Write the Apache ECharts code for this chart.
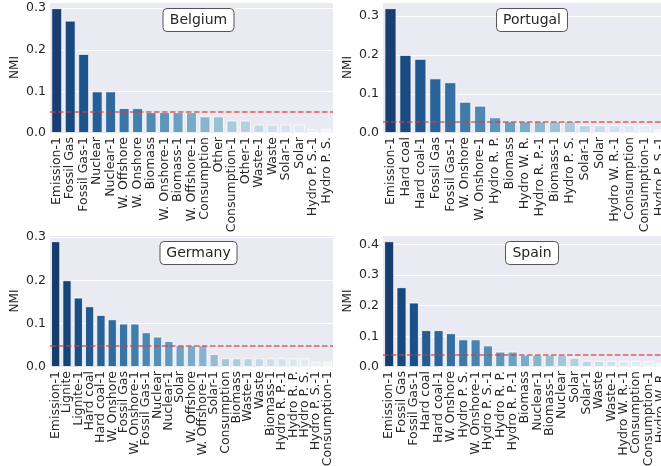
<!DOCTYPE html>
<html>
<head>
<meta charset="utf-8">
<script src="https://cdn.jsdelivr.net/npm/echarts@6/dist/echarts.min.js"></script>
<style>
  html, body { margin: 0; padding: 0; background: #fff; }
  #main { width: 661px; height: 466px; }
</style>
</head>
<body>
<div id="main"></div>
<script>
// 数据
var belgiumCats = ['Emission-1', 'Fossil Gas', 'Fossil Gas-1', 'Nuclear', 'Nuclear-1', 'W. Offshore', 'W. Onshore',
    'Biomass', 'W. Onshore-1', 'Biomass-1', 'W. Offshore-1', 'Consumption', 'Other', 'Consumption-1', 'Other-1',
    'Waste-1', 'Waste', 'Solar-1', 'Solar', 'Hydro P. S.-1', 'Hydro P. S.'];
var belgiumVals = [0.30, 0.27, 0.19, 0.10, 0.10, 0.06, 0.06, 0.05, 0.05, 0.05, 0.05, 0.04, 0.04, 0.03, 0.03,
    0.02, 0.02, 0.02, 0.02, 0.009, 0.009];
var belgiumThr = 0.051;

var portugalCats = ['Emission-1', 'Hard coal', 'Hard coal-1', 'Fossil Gas', 'Fossil Gas-1', 'W. Onshore', 'W. Onshore-1',
    'Hydro R. P.', 'Biomass', 'Hydro W. R.', 'Hydro R. P.-1', 'Biomass-1', 'Hydro P. S.', 'Solar-1', 'Solar',
    'Hydro W. R.-1', 'Consumption', 'Consumption-1', 'Hydro P. S.-1'];
var portugalVals = [0.32, 0.20, 0.19, 0.14, 0.13, 0.08, 0.07, 0.04, 0.03, 0.03, 0.03, 0.03, 0.03, 0.02, 0.02,
    0.02, 0.02, 0.02, 0.009];
var portugalThr = 0.031;

var germanyCats = ['Emission-1', 'Lignite', 'Lignite-1', 'Hard coal', 'Hard coal-1', 'W. Onshore', 'Fossil Gas',
    'W. Onshore-1', 'Fossil Gas-1', 'Nuclear', 'Nuclear-1', 'Solar', 'W. Offshore', 'W. Offshore-1', 'Solar-1',
    'Consumption', 'Biomass', 'Waste-1', 'Waste', 'Biomass-1', 'Hydro R. P.-1', 'Hydro R. P.', 'Hydro P. S.',
    'Hydro P. S.-1', 'Consumption-1'];
var germanyVals = [0.29, 0.20, 0.16, 0.14, 0.12, 0.11, 0.10, 0.10, 0.08, 0.07, 0.06, 0.05, 0.05, 0.05, 0.03,
    0.02, 0.02, 0.02, 0.02, 0.02, 0.02, 0.02, 0.02, 0.012, 0.012];
var germanyThr = 0.051;

var spainCats = ['Emission-1', 'Fossil Gas', 'Fossil Gas-1', 'Hard coal', 'Hard coal-1', 'W. Onshore', 'Hydro P. S.',
    'W. Onshore-1', 'Hydro P. S.-1', 'Hydro R. P.', 'Hydro R. P.-1', 'Biomass', 'Nuclear-1', 'Biomass-1', 'Nuclear',
    'Solar', 'Solar-1', 'Waste', 'Waste-1', 'Hydro W. R.-1', 'Consumption', 'Consumption-1', 'Hydro W. R.'];
var spainVals = [0.41, 0.26, 0.21, 0.12, 0.12, 0.11, 0.09, 0.09, 0.07, 0.05, 0.05, 0.04, 0.04, 0.04, 0.04,
    0.03, 0.02, 0.02, 0.02, 0.02, 0.02, 0.02, 0.012];
var spainThr = 0.045;

var yTicks = [0, 0.1, 0.2, 0.3, 0.4];

// Blues_r 调色板 (seaborn 风格, 饱和度 0.75)
var bluesStops = ['#f7fbff', '#deebf7', '#c6dbef', '#9ecae1', '#6baed6', '#4292c6', '#2171b5', '#08519c', '#08306b'];

function hexToRgb(h) {
    return [parseInt(h.substr(1, 2), 16), parseInt(h.substr(3, 2), 16), parseInt(h.substr(5, 2), 16)];
}

function blues(t) {
    var pos = t * (bluesStops.length - 1);
    var i = Math.min(Math.floor(pos), bluesStops.length - 2);
    var f = pos - i;
    var a = hexToRgb(bluesStops[i]), b = hexToRgb(bluesStops[i + 1]);
    return [a[0] + (b[0] - a[0]) * f, a[1] + (b[1] - a[1]) * f, a[2] + (b[2] - a[2]) * f];
}

function desat(rgb, k) {
    var r = rgb[0] / 255, g = rgb[1] / 255, b = rgb[2] / 255;
    var mx = Math.max(r, g, b), mn = Math.min(r, g, b);
    var l = (mx + mn) / 2, h = 0, s = 0;
    if (mx !== mn) {
        var d = mx - mn;
        s = l > 0.5 ? d / (2 - mx - mn) : d / (mx + mn);
        if (mx === r) h = (g - b) / d + (g < b ? 6 : 0);
        else if (mx === g) h = (b - r) / d + 2;
        else h = (r - g) / d + 4;
        h /= 6;
    }
    s *= k;
    function hue(p, q, t) {
        if (t < 0) t += 1;
        if (t > 1) t -= 1;
        if (t < 1 / 6) return p + (q - p) * 6 * t;
        if (t < 1 / 2) return q;
        if (t < 2 / 3) return p + (q - p) * (2 / 3 - t) * 6;
        return p;
    }
    var q = l < 0.5 ? l * (1 + s) : l + s - l * s;
    var p = 2 * l - q;
    var out = s === 0 ? [l, l, l] : [hue(p, q, h + 1 / 3), hue(p, q, h), hue(p, q, h - 1 / 3)];
    return 'rgb(' + Math.round(out[0] * 255) + ',' + Math.round(out[1] * 255) + ',' + Math.round(out[2] * 255) + ')';
}

function palette(n) {
    var out = [];
    for (var i = 0; i < n; i++) {
        out.push(desat(blues(1 - (i + 1) / (n + 1)), 0.75));
    }
    return out;
}

var FONT = 'DejaVu Sans';
var TXT = '#262626';

// 四个面板
var panels = [
    { name: 'Belgium', cats: belgiumCats, vals: belgiumVals, thr: belgiumThr, left: 50, top: 2, width: 283, height: 131 },
    { name: 'Portugal', cats: portugalCats, vals: portugalVals, thr: portugalThr, left: 383, top: 2, width: 284, height: 131 },
    { name: 'Germany', cats: germanyCats, vals: germanyVals, thr: germanyThr, left: 50, top: 235, width: 283, height: 132 },
    { name: 'Spain', cats: spainCats, vals: spainVals, thr: spainThr, left: 383, top: 235, width: 284, height: 132 }
];

var option = { backgroundColor: '#fff', animation: false, title: [], grid: [], xAxis: [], yAxis: [], series: [] };

panels.forEach(function (p, idx) {
    var maxV = Math.max.apply(null, p.vals) * 1.05;
    var cols = palette(p.vals.length);

    option.grid.push({ left: p.left, top: p.top, width: p.width, height: p.height,
        show: true, backgroundColor: '#eaeaf2', borderWidth: 0,
        containLabel: false, outerBoundsMode: 'none' });

    option.title.push({
        text: p.name,
        left: p.left + p.width / 2,
        top: p.top + 6,
        textAlign: 'center',
        backgroundColor: '#fff',
        borderColor: '#555',
        borderWidth: 1,
        borderRadius: 4,
        padding: [5, 7, 5, 7],
        textStyle: { fontFamily: FONT, fontSize: 14, fontWeight: 'normal', color: TXT }
    });

    option.xAxis.push({
        type: 'category', gridIndex: idx, data: p.cats,
        axisLine: { show: false }, axisTick: { show: false },
        axisLabel: { interval: 0, rotate: 90, margin: 4, fontFamily: FONT, fontSize: 12.5, color: TXT }
    });

    option.yAxis.push({
        type: 'value', gridIndex: idx, min: 0, max: maxV, interval: 0.1,
        name: 'NMI', nameLocation: 'middle', nameGap: 29, nameRotate: 90,
        nameTextStyle: { fontFamily: FONT, fontSize: 12, color: TXT },
        axisLine: { show: false }, axisTick: { show: false },
        splitLine: { lineStyle: { color: '#fff', width: 1 } },
        axisLabel: {
            margin: 4, fontFamily: FONT, fontSize: 12.5, color: TXT,
            formatter: function (v) {
                return yTicks.some(function (t) { return Math.abs(t - v) < 1e-9; }) ? v.toFixed(1) : '';
            }
        }
    });

    option.series.push({
        type: 'bar', xAxisIndex: idx, yAxisIndex: idx,
        barCategoryGap: '20%',
        data: p.vals.map(function (v, i) {
            return { value: v, itemStyle: { color: cols[i] } };
        }),
        itemStyle: { borderColor: '#fff', borderWidth: 0.8 },
        markLine: {
            silent: true, symbol: 'none', label: { show: false },
            lineStyle: { color: 'rgba(210,60,60,0.8)', type: [5.5, 2.5], width: 1.5 },
            data: [{ yAxis: p.thr }]
        }
    });
});

var chart = echarts.init(document.getElementById('main'));
chart.setOption(option);
</script>
</body>
</html>
